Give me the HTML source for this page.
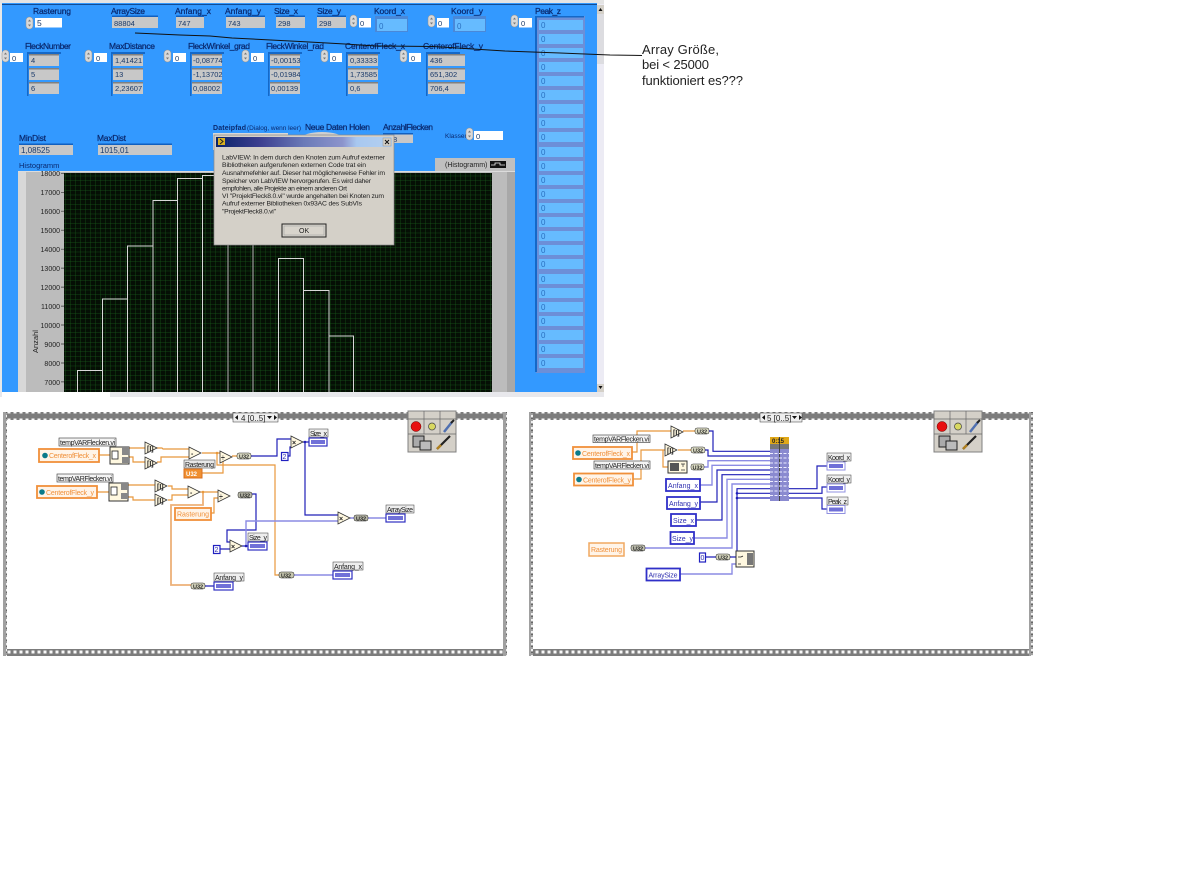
<!DOCTYPE html>
<html><head><meta charset="utf-8"><style>
html,body{margin:0;padding:0;background:#fff;width:1187px;height:872px;overflow:hidden}
svg{display:block;font-family:"Liberation Sans",sans-serif}
.l{font-size:8.5px;fill:#0a2a70;stroke:#0a2a70;stroke-width:.25}
.v{font-size:7.5px;fill:#1a3a6a}
.p{font-size:8px;fill:#2a70c0}
.a{font-size:7px;fill:#222;text-anchor:end}
.d{font-size:6.8px;fill:#222}
.t{font-size:7px;fill:#222}
.o{font-size:7px;fill:#f0903a}
.b{font-size:7px;fill:#3030b0}
.u{font-size:5.5px;fill:#222;font-weight:bold}
.g{font-size:7px;fill:#222;font-weight:bold}
.or{fill:none;stroke:#e8983c;stroke-width:1.2}
.bl{fill:none;stroke:#2020b8;stroke-width:1.2}
.la{fill:none;stroke:#8c8ce4;stroke-width:1.4}
</style></head><body>
<svg width="1187" height="872" viewBox="0 0 1187 872" xmlns="http://www.w3.org/2000/svg">
<defs>
<pattern id="film" width="6" height="8" patternUnits="userSpaceOnUse"><rect width="6" height="8" fill="#7c7c7c"/><rect x="1.5" y="2.5" width="3" height="3" fill="#f8f8f8"/></pattern>
<pattern id="film2" width="5" height="6" patternUnits="userSpaceOnUse"><rect width="5" height="6" fill="#a0a0a0"/><rect x="1" y="1" width="2" height="2" fill="#f0f0f0"/><rect x="1" y="4" width="2" height="1" fill="#666"/></pattern>
<pattern id="grid" width="5" height="4.75" patternUnits="userSpaceOnUse"><rect width="5" height="4.75" fill="#050f05"/><path d="M0 0V4.75M0 0H5" stroke="#175a1a" stroke-width=".7"/></pattern>
<linearGradient id="tb"><stop offset="0" stop-color="#0a246a"/><stop offset=".25" stop-color="#3c3f90"/><stop offset=".5" stop-color="#6a7ab8"/><stop offset=".72" stop-color="#8c94cc"/><stop offset=".8" stop-color="#a8c8f0"/><stop offset="1" stop-color="#b4d0f0"/></linearGradient>
<g id="s"><rect width="7" height="12" rx="3.4" fill="#d8d8d8" stroke="#909090" stroke-width=".5"/><path d="M3.5 2.5l-1.5 2h3zM3.5 9.5l-1.5-2h3z" fill="#777"/></g>
<g id="arr"><rect x="-2" y="-3" width="34" height="43" fill="#3399ff"/><rect x="-2" y="-3" width="34" height="2" fill="#1468c8"/><rect x="-2" y="-3" width="1.5" height="44" fill="#1468c8"/><rect y="0" width="30" height="11" fill="#c8c8c8"/><rect y="14" width="30" height="11" fill="#c8c8c8"/><rect y="28" width="30" height="11" fill="#c8c8c8"/><rect y="-1" width="30" height="1.5" fill="#808080"/><rect y="13" width="30" height="1.5" fill="#808080"/><rect y="27" width="30" height="1.5" fill="#808080"/></g>
<g id="tri"><path d="M0 0L12 6L0 12Z" fill="#fff8e0" stroke="#333" stroke-width=".8"/></g>
<g id="pal"><rect width="48" height="41" fill="#d4d0c8" stroke="#808080"/><path d="M0 8H48M16 0V23M32 0V23M0 23H48" stroke="#666" stroke-width=".7"/><circle cx="8" cy="15.500" r="5" fill="#e81010" stroke="#600" stroke-width=".5"/><circle cx="24" cy="15.500" r="3.500" fill="#d8d860" stroke="#444" stroke-width=".7"/><path d="M36 21L44 11" stroke="#5070b0" stroke-width="2.500"/><path d="M43 12L46 9" stroke="#222" stroke-width="2"/><rect x="5" y="25" width="11" height="11" fill="#aaa" stroke="#222"/><rect x="12" y="30" width="11" height="9" fill="#bbb" stroke="#222"/><path d="M29 38L42 25" stroke="#222" stroke-width="2.200"/><path d="M29 38L33 34" stroke="#b08020" stroke-width="2.500"/></g>
</defs>
<rect width="1187" height="872" fill="#fff"/>

<!-- front panel -->
<rect x="0" y="0" width="604" height="4" fill="#e4e4e4"/>
<rect x="0" y="3" width="2" height="392" fill="#e8e8e8"/>
<rect x="2" y="3" width="595" height="389" fill="#3399ff"/>
<rect x="2" y="4" width="595" height=".8" fill="#0a3a7a"/>
<rect x="597" y="4" width="7" height="388" fill="#ecebf4"/>
<rect x="597" y="14" width="7" height="50" fill="#dcdce0"/>
<rect x="597" y="5" width="7" height="9" fill="#d4d0c8"/><path d="M600.500 8l-2 3h4z" fill="#111"/>
<rect x="597" y="384" width="7" height="8" fill="#d4d0c8"/><path d="M600.500 389l-2-3h4z" fill="#111"/>
<rect x="0" y="392" width="604" height="5" fill="#e8e8ec"/><rect x="2" y="392" width="108" height="5" fill="#fff"/>

<!-- top row -->
<text class="l" x="33" y="14" textLength="38">Rasterung</text>
<use href="#s" x="26" y="17"/><rect x="35" y="18" width="27" height="9.500" fill="#fff"/><text class="v" x="37" y="26" style="font-size:8.500px">5</text>
<text class="l" x="111" y="14" textLength="34">ArraySize</text>
<rect x="112" y="16" width="46" height="12" fill="#c8c8c8"/><rect x="112" y="15.500" width="46" height="1.500" fill="#1060c0"/><text class="v" x="114" y="26">88804</text>
<text class="l" x="175" y="14" textLength="36">Anfang_x</text>
<rect x="176" y="16" width="28" height="12" fill="#c8c8c8"/><rect x="176" y="15.500" width="28" height="1.500" fill="#1060c0"/><text class="v" x="178" y="26">747</text>
<text class="l" x="225" y="14" textLength="36">Anfang_y</text>
<rect x="226" y="16" width="39" height="12" fill="#c8c8c8"/><rect x="226" y="15.500" width="39" height="1.500" fill="#1060c0"/><text class="v" x="228" y="26">743</text>
<text class="l" x="274" y="14" textLength="24">Size_x</text>
<rect x="276" y="16" width="29" height="12" fill="#c8c8c8"/><rect x="276" y="15.500" width="29" height="1.500" fill="#1060c0"/><text class="v" x="278" y="26">298</text>
<text class="l" x="317" y="14" textLength="24">Size_y</text>
<rect x="317" y="16" width="29" height="12" fill="#c8c8c8"/><rect x="317" y="15.500" width="29" height="1.500" fill="#1060c0"/><text class="v" x="319" y="26">298</text>
<use href="#s" x="350" y="15"/><rect x="359" y="18" width="12" height="9.500" fill="#fff"/><text class="v" x="360" y="26">0</text>
<text class="l" x="374" y="14" textLength="31">Koord_x</text>
<rect x="375" y="16" width="33" height="16" fill="#4a88d8"/><rect x="377" y="19" width="30" height="12" fill="#66bbff"/><text class="p" x="379" y="29">0</text>
<use href="#s" x="428" y="15"/><rect x="437" y="18" width="12" height="9.500" fill="#fff"/><text class="v" x="438" y="26">0</text>
<text class="l" x="451" y="14" textLength="32">Koord_y</text>
<rect x="453" y="16" width="33" height="16" fill="#4a88d8"/><rect x="455" y="19" width="30" height="12" fill="#66bbff"/><text class="p" x="457" y="29">0</text>
<use href="#s" x="511" y="15"/><rect x="519" y="18" width="13" height="9.500" fill="#fff"/><text class="v" x="521" y="26">0</text>
<text class="l" x="535" y="14" textLength="26">Peak_z</text>

<!-- Peak_z -->
<rect x="536" y="16" width="49" height="357" fill="#6c8fd8"/><rect x="535" y="16" width="49" height="1.500" fill="#1468c8"/><rect x="535" y="16" width="2" height="356" fill="#1468c8"/>
<g fill="#66bbff">
<rect x="539" y="20" width="44" height="10"/><rect x="539" y="34" width="44" height="10"/><rect x="539" y="48" width="44" height="10"/><rect x="539" y="62" width="44" height="10"/><rect x="539" y="76" width="44" height="10"/><rect x="539" y="90" width="44" height="10"/><rect x="539" y="104" width="44" height="10"/><rect x="539" y="118" width="44" height="10"/><rect x="539" y="132" width="44" height="10"/><rect x="539" y="147" width="44" height="10"/><rect x="539" y="161" width="44" height="10"/><rect x="539" y="175" width="44" height="10"/><rect x="539" y="189" width="44" height="10"/><rect x="539" y="203" width="44" height="10"/><rect x="539" y="217" width="44" height="10"/><rect x="539" y="231" width="44" height="10"/><rect x="539" y="245" width="44" height="10"/><rect x="539" y="259" width="44" height="10"/><rect x="539" y="274" width="44" height="10"/><rect x="539" y="288" width="44" height="10"/><rect x="539" y="302" width="44" height="10"/><rect x="539" y="316" width="44" height="10"/><rect x="539" y="330" width="44" height="10"/><rect x="539" y="344" width="44" height="10"/><rect x="539" y="358" width="44" height="10"/>
</g>
<g class="p" style="font-size:8px;fill:#2a70c0">
<text x="541" y="28">0</text><text x="541" y="42">0</text><text x="541" y="56">0</text><text x="541" y="70">0</text><text x="541" y="84">0</text><text x="541" y="98">0</text><text x="541" y="112">0</text><text x="541" y="126">0</text><text x="541" y="140">0</text><text x="541" y="155">0</text><text x="541" y="169">0</text><text x="541" y="183">0</text><text x="541" y="197">0</text><text x="541" y="211">0</text><text x="541" y="225">0</text><text x="541" y="239">0</text><text x="541" y="253">0</text><text x="541" y="267">0</text><text x="541" y="282">0</text><text x="541" y="296">0</text><text x="541" y="310">0</text><text x="541" y="324">0</text><text x="541" y="338">0</text><text x="541" y="352">0</text><text x="541" y="366">0</text>
</g>

<!-- second row -->
<text class="l" x="25" y="49" textLength="46">FleckNumber</text>
<use href="#s" x="2" y="50"/><rect x="10" y="53" width="13" height="9" fill="#fff"/><text class="v" x="12" y="61">0</text>
<use href="#arr" x="29" y="55"/><text class="v" x="31" y="63">4</text><text class="v" x="31" y="77">5</text><text class="v" x="31" y="91">6</text>
<text class="l" x="109" y="49" textLength="46">MaxDistance</text>
<use href="#s" x="85" y="50"/><rect x="94" y="53" width="13" height="9" fill="#fff"/><text class="v" x="96" y="61">0</text>
<use href="#arr" x="113" y="55"/><text class="v" x="115" y="63">1,41421</text><text class="v" x="115" y="77">13</text><text class="v" x="115" y="91">2,23607</text>
<text class="l" x="188" y="49" textLength="62">FleckWinkel_grad</text>
<use href="#s" x="164" y="50"/><rect x="173" y="53" width="13" height="9" fill="#fff"/><text class="v" x="175" y="61">0</text>
<use href="#arr" x="192" y="55"/><text class="v" x="193" y="63">-0,08774</text><text class="v" x="193" y="77">-1,13702</text><text class="v" x="193" y="91">0,08002</text>
<text class="l" x="266" y="49" textLength="58">FleckWinkel_rad</text>
<use href="#s" x="242" y="50"/><rect x="251" y="53" width="13" height="9" fill="#fff"/><text class="v" x="253" y="61">0</text>
<use href="#arr" x="270" y="55"/><text class="v" x="271" y="63">-0,00153</text><text class="v" x="271" y="77">-0,01984</text><text class="v" x="271" y="91">0,00139</text>
<text class="l" x="345" y="49" textLength="60">CenterofFleck_x</text>
<use href="#s" x="321" y="50"/><rect x="330" y="53" width="12" height="9" fill="#fff"/><text class="v" x="332" y="61">0</text>
<use href="#arr" x="348" y="55"/><text class="v" x="350" y="63">0,33333</text><text class="v" x="350" y="77">1,73585</text><text class="v" x="350" y="91">0,6</text>
<text class="l" x="423" y="49" textLength="60">CenterofFleck_y</text>
<use href="#s" x="400" y="50"/><rect x="409" y="53" width="12" height="9" fill="#fff"/><text class="v" x="411" y="61">0</text>
<use href="#arr" x="428" y="55"/><rect x="456" y="55" width="10" height="39" fill="#3399ff"/><rect x="428" y="55" width="37" height="11" fill="#c8c8c8"/><rect x="428" y="69" width="37" height="11" fill="#c8c8c8"/><rect x="428" y="83" width="37" height="11" fill="#c8c8c8"/><rect x="428" y="54" width="37" height="1.500" fill="#808080"/><rect x="428" y="68" width="37" height="1.500" fill="#808080"/><rect x="428" y="82" width="37" height="1.500" fill="#808080"/>
<text class="v" x="430" y="63">436</text><text class="v" x="430" y="77">651,302</text><text class="v" x="430" y="91">706,4</text>

<!-- third row -->
<text class="l" x="19" y="141" textLength="27">MinDist</text>
<rect x="19" y="144" width="54" height="11" fill="#c8c8c8"/><rect x="19" y="143.500" width="54" height="1.500" fill="#1060c0"/><text class="v" x="21" y="153" style="font-size:8px">1,08525</text>
<text class="l" x="97" y="141" textLength="29">MaxDist</text>
<rect x="98" y="144" width="74" height="11" fill="#c8c8c8"/><rect x="98" y="143.500" width="74" height="1.500" fill="#1060c0"/><text class="v" x="100" y="153" style="font-size:8px">1015,01</text>
<text x="213" y="130" style="font-size:7px;fill:#0a2a70;font-weight:bold" textLength="33">Dateipfad</text>
<text x="247" y="130" style="font-size:6.500px;fill:#0a2a70" textLength="54">(Dialog, wenn leer)</text>
<text class="l" x="305" y="130" textLength="65">Neue Daten Holen</text>
<text class="l" x="383" y="130" textLength="50">AnzahlFlecken</text>
<rect x="383" y="134" width="30" height="9" fill="#c8c8c8"/><rect x="383" y="133" width="30" height="1.500" fill="#1060c0"/><text class="v" x="393" y="142">8</text>
<text x="445" y="138" style="font-size:6.500px;fill:#0a2a70">Klassen</text>
<use href="#s" x="466" y="128"/><rect x="474" y="131" width="29" height="9" fill="#fff"/><text class="v" x="476" y="139">0</text>
<text x="19" y="168" style="font-size:7.500px;fill:#0a2a70">Histogramm</text>

<!-- chart -->
<rect x="435" y="158" width="80" height="14" fill="#c0c0c0"/><text x="445" y="167" style="font-size:7px;fill:#222">(Histogramm)</text><rect x="490" y="161" width="16" height="7" fill="#111"/><path d="M491 165h4v-2h5v2h5" stroke="#eee" fill="none" stroke-width=".8"/>
<rect x="18" y="171" width="497" height="221" fill="#bcbcbc"/><rect x="18" y="171" width="8" height="221" fill="#d8d8d8"/><rect x="18" y="171" width="497" height="1" fill="#dcdcdc"/><rect x="507" y="172" width="8" height="220" fill="#a8a8a8"/>
<rect x="64" y="173" width="428" height="219" fill="url(#grid)"/>
<g class="a"><text x="60" y="176">18000</text><text x="60" y="195">17000</text><text x="60" y="214">16000</text><text x="60" y="233">15000</text><text x="60" y="252">14000</text><text x="60" y="271">13000</text><text x="60" y="290">12000</text><text x="60" y="309">11000</text><text x="60" y="328">10000</text><text x="60" y="347">9000</text><text x="60" y="366">8000</text><text x="60" y="385">7000</text></g>
<path d="M61 173.300h3M61 192.300h3M61 211.200h3M61 230.200h3M61 249.200h3M61 268.100h3M61 287.100h3M61 306.100h3M61 325h3M61 344h3M61 363h3M61 381.900h3" stroke="#333" stroke-width=".7"/>
<text transform="translate(38,353) rotate(-90)" style="font-size:7.500px;fill:#222">Anzahl</text>
<path d="M77.500 392V370.500H102.500V392M102.500 370V299H127.500V392M127.500 299V246H153V392M153 246V200.500H177.500V392M177.500 200.500V178.500H202.500V392M202.500 178.500V175.500H228V392M253 392V220M278.500 392V258.500H303.500V392M303.500 290.500H329V392M329 336H353.500V392" fill="none" stroke="#d8d8d8" stroke-width="1"/>
<path d="M228 245V392M253 245V392" stroke="#999" stroke-width="1.200"/>

<!-- dialog -->
<rect x="213" y="133" width="75" height="17" fill="#d8d8d8"/><ellipse cx="322" cy="138" rx="20" ry="6" fill="#cfcfcf"/>
<rect x="214" y="135" width="180" height="110" fill="#d4d0c8" stroke="#888" stroke-width=".7"/>
<rect x="216" y="137" width="176" height="10" fill="url(#tb)"/>
<rect x="218" y="138" width="7" height="7" fill="#d8b020"/><path d="M220 139l3 2.500-3 2.500" stroke="#222" fill="none"/>
<rect x="383" y="138" width="8" height="8" fill="#d4d0c8" stroke="#888" stroke-width=".4"/><path d="M385 140l4 4M389 140l-4 4" stroke="#111" stroke-width="1"/>
<g class="d">
<text x="222" y="159.500" textLength="163">LabVIEW:  In dem durch den Knoten zum Aufruf externer</text>
<text x="222" y="167" textLength="144">Bibliotheken aufgerufenen externen Code trat ein</text>
<text x="222" y="175" textLength="163">Ausnahmefehler auf. Dieser hat möglicherweise Fehler im</text>
<text x="222" y="183" textLength="149">Speicher von LabVIEW hervorgerufen. Es wird daher</text>
<text x="222" y="190.500" textLength="125">empfohlen, alle Projekte an einem anderen Ort</text>
<text x="222" y="198" textLength="162">VI "ProjektFleck8.0.vi" wurde angehalten bei Knoten zum</text>
<text x="222" y="205.500" textLength="140">Aufruf externer Bibliotheken  0x93AC des SubVIs</text>
<text x="222" y="213.500" textLength="54">"ProjektFleck8.0.vi"</text>
</g>
<rect x="282" y="224" width="44" height="13" fill="#d8d4cc" stroke="#222" stroke-width="1"/><rect x="284" y="226" width="40" height="9" fill="none" stroke="#999" stroke-width=".5"/><text x="299" y="233" style="font-size:7px;fill:#222">OK</text>

<!-- callout -->
<path d="M135 33L180 35L210 36L232 38L300 41.500L345 44L375 46L433 46.500L505 51L560 53L610 55L642 55.500" fill="none" stroke="#111" stroke-width="1"/>
<g style="font-size:13px;fill:#222"><text x="642" y="54" textLength="77">Array Größe,</text><text x="642" y="69" textLength="67">bei &lt; 25000</text><text x="642" y="85" textLength="101">funktioniert es???</text></g>

<!-- FRAME 1 -->
<rect x="3" y="412" width="504" height="244" fill="#fff"/>
<rect x="3" y="412" width="504" height="8" fill="url(#film)"/><rect x="3" y="649" width="504" height="7" fill="url(#film)"/>
<rect x="3" y="412" width="4" height="244" fill="url(#film2)"/><rect x="503" y="412" width="4" height="244" fill="url(#film2)"/>
<rect x="233" y="413" width="45" height="9" fill="#eee" stroke="#333" stroke-width=".5"/><path d="M238 415v5l-3-2.500zM274 415v5l3-2.500zM267 416h5l-2.500 3z" fill="#111"/><text x="241" y="421" style="font-size:8px;fill:#222">4 [0..5]</text>
<use href="#pal" x="408" y="411"/>

<path class="or" d="M99 455H110M129 448H162L163 449H189M129 457H133V462H145M157 462H161V457H189M202 453H220M217 453V465H275V575H279M223 459V473H202M232 456H237M97 492H109M128 485H155M128 497H133V500H155M168 486H172V489H188M168 500H172V495H188M200 492H218M211 513H214V498H218"/>
<path d="M203 492V505H171V585H191" fill="none" stroke="#edb078" stroke-width="1.800"/>
<path class="bl" d="M251 456H277V439H291M288 456H290V447H291M303 442H309M305 442V515H338M252 494H256V530H227V542H230M220 549H230M242 546H248M205 586H214"/>
<path class="la" d="M246 546V521H338M350 518H354M368 518H386M294 575H333"/>
<circle cx="305" cy="442" r="1.300" fill="#2020b8"/><circle cx="246" cy="546" r="1.300" fill="#2020b8"/><circle cx="217" cy="453" r="1.300" fill="#e8983c"/><circle cx="203" cy="492" r="1.300" fill="#e8983c"/>

<rect x="59" y="438" width="57" height="8" fill="#f4f4f4" stroke="#333" stroke-width=".6"/><text class="t" x="60" y="445" textLength="55">tempVARFlecken.vi</text>
<rect x="39" y="449" width="60" height="13" fill="#fff4e8" stroke="#f0903a" stroke-width="1.800"/><circle cx="45" cy="455.500" r="2.800" fill="#0a7a8a"/><text class="o" x="49" y="458" textLength="47">CenterofFleck_x</text>
<rect x="110" y="447" width="19" height="17" fill="#fff8e0" stroke="#333"/><rect x="112" y="451" width="6" height="8" fill="#fff" stroke="#222" stroke-width=".8"/><rect x="122" y="447" width="7" height="8" fill="#888"/><rect x="122" y="457" width="7" height="6" fill="#888"/>
<use href="#tri" x="145" y="442"/><use href="#tri" x="145" y="457"/><use href="#tri" x="189" y="447"/><use href="#tri" x="220" y="451"/>
<text class="g" x="147" y="451">[I]</text><text class="g" x="147" y="466">[I]</text><text class="g" x="191" y="456">-</text><text class="g" x="221" y="460">÷</text>
<rect x="237" y="453" width="14" height="6" rx="2" fill="#e0e0c8" stroke="#222" stroke-width=".5"/><text class="u" x="239" y="458.500">U32</text>
<rect x="184" y="460" width="31" height="8" fill="#e8e8e8" stroke="#333" stroke-width=".5"/><text class="t" x="185" y="467" textLength="29">Rasterung</text>
<rect x="184" y="469" width="18" height="9" fill="#f09030" stroke="#d87020"/><text x="186" y="476" style="font-size:6px;fill:#fff;font-weight:bold">U32</text>
<rect x="57" y="474" width="56" height="8" fill="#f4f4f4" stroke="#333" stroke-width=".6"/><text class="t" x="58" y="481" textLength="54">tempVARFlecken.vi</text>
<rect x="37" y="486" width="60" height="12" fill="#fff4e8" stroke="#f0903a" stroke-width="1.800"/><circle cx="42" cy="492" r="2.800" fill="#0a7a8a"/><text class="o" x="46" y="495" textLength="48">CenterofFleck_y</text>
<rect x="109" y="483" width="19" height="18" fill="#fff8e0" stroke="#333"/><rect x="111" y="487" width="6" height="8" fill="#fff" stroke="#222" stroke-width=".8"/><rect x="121" y="483" width="7" height="7" fill="#888"/><rect x="121" y="493" width="7" height="6" fill="#888"/>
<use href="#tri" x="155" y="480"/><use href="#tri" x="155" y="494"/><use href="#tri" x="188" y="486"/><use href="#tri" x="218" y="490"/>
<text class="g" x="157" y="489">[I]</text><text class="g" x="157" y="503">[I]</text><text class="g" x="190" y="495">-</text><text class="g" x="219" y="499">÷</text>
<rect x="238" y="492" width="14" height="6" rx="2" fill="#b8b8a8" stroke="#222" stroke-width=".5"/><text class="u" x="240" y="497.500">U32</text>
<rect x="175" y="508" width="36" height="12" fill="#fff4e8" stroke="#f0903a" stroke-width="1.800"/><text class="o" x="177" y="516.500" textLength="32">Rasterung</text>
<rect x="213.500" y="545.500" width="6.500" height="8" fill="#fff" stroke="#2020c0" stroke-width="1.200"/><text class="b" x="214.500" y="552">2</text>
<use href="#tri" x="230" y="540"/><text class="g" x="231" y="549">×</text>
<rect x="248" y="533" width="20" height="8" fill="#eee" stroke="#333" stroke-width=".5"/><text class="t" x="249" y="540" textLength="18">Size_y</text>
<rect x="248" y="542" width="19" height="8" fill="#fff" stroke="#3030c0" stroke-width="1.200"/><rect x="250" y="544" width="15" height="4" fill="#7070d8"/>
<use href="#tri" x="291" y="436"/><text class="g" x="292" y="445">×</text>
<rect x="281.500" y="452.500" width="6.500" height="8" fill="#fff" stroke="#2020c0" stroke-width="1.200"/><text class="b" x="282.500" y="459">2</text>
<rect x="309" y="429" width="19" height="8" fill="#eee" stroke="#333" stroke-width=".5"/><text class="t" x="310" y="436" textLength="17">Size_x</text>
<rect x="309" y="438" width="18" height="8" fill="#fff" stroke="#3030c0" stroke-width="1.200"/><rect x="311" y="440" width="14" height="4" fill="#7070d8"/>
<use href="#tri" x="338" y="512"/><text class="g" x="339" y="521">×</text>
<rect x="354" y="515" width="14" height="6" rx="2" fill="#b8b8a8" stroke="#222" stroke-width=".5"/><text class="u" x="356" y="520.500">U32</text>
<rect x="386" y="505" width="28" height="8" fill="#eee" stroke="#333" stroke-width=".5"/><text class="t" x="387" y="512" textLength="26">ArraySize</text>
<rect x="386" y="514" width="19" height="8" fill="#fff" stroke="#3030c0" stroke-width="1.200"/><rect x="388" y="516" width="15" height="4" fill="#7070d8"/>
<rect x="279" y="572" width="15" height="6" rx="2" fill="#c8c8b0" stroke="#222" stroke-width=".5"/><text class="u" x="281" y="577.500">U32</text>
<rect x="333" y="562" width="30" height="8" fill="#eee" stroke="#333" stroke-width=".5"/><text class="t" x="334" y="569" textLength="28">Anfang_x</text>
<rect x="333" y="571" width="19" height="8" fill="#fff" stroke="#3030c0" stroke-width="1.200"/><rect x="335" y="573" width="15" height="4" fill="#7070d8"/>
<rect x="191" y="583" width="14" height="6" rx="2" fill="#d8d8c0" stroke="#222" stroke-width=".5"/><text class="u" x="193" y="588.500">U32</text>
<rect x="214" y="573" width="30" height="8" fill="#eee" stroke="#333" stroke-width=".5"/><text class="t" x="215" y="580" textLength="28">Anfang_y</text>
<rect x="214" y="582" width="19" height="8" fill="#fff" stroke="#3030c0" stroke-width="1.200"/><rect x="216" y="584" width="15" height="4" fill="#7070d8"/>

<!-- FRAME 2 -->
<rect x="529" y="412" width="504" height="244" fill="#fff"/>
<rect x="529" y="412" width="504" height="8" fill="url(#film)"/><rect x="529" y="649" width="504" height="7" fill="url(#film)"/>
<rect x="529" y="412" width="4" height="244" fill="url(#film2)"/><rect x="1029" y="412" width="4" height="244" fill="url(#film2)"/>
<rect x="760" y="413" width="42" height="9" fill="#eee" stroke="#333" stroke-width=".5"/><path d="M765 415v5l-3-2.500zM799 415v5l3-2.500zM792 416h5l-2.500 3z" fill="#111"/><text x="767" y="421" style="font-size:8px;fill:#222">5 [0..5]</text>
<use href="#pal" x="934" y="411"/>

<path class="or" d="M632 452H637V431H671M683 431H695M633 479H641V450H665M678 450H691M663 450V467H668"/>
<path class="bl" d="M709 431H713V451.300H770M705 450H708V456H770M700 502H717V470H770M696 520H722V474.700H770M737 551V488.700H770M737 493.300H770M737 498H770M706 557H716M730 557H736M789 488.700H817V466H827M789 493.300H822V487H827M789 498H822V509H827"/>
<path class="la" d="M704 467H708V460.700H770M700 485H712V465.300H770M694 538H727V479.300H770M645 548H732V484H770M680 574H732V564H736"/>
<circle cx="737" cy="493.300" r="1.300" fill="#2020b8"/><circle cx="737" cy="498" r="1.300" fill="#2020b8"/>

<rect x="593" y="435" width="57" height="7.500" fill="#f4f4f4" stroke="#333" stroke-width=".6"/><text class="t" x="594" y="441.500" textLength="55">tempVARFlecken.vi</text>
<rect x="573" y="447" width="59" height="12" fill="#fff4e8" stroke="#f0903a" stroke-width="1.800"/><circle cx="578" cy="453" r="2.800" fill="#0a7a8a"/><text class="o" x="582" y="456" textLength="48">CenterofFleck_x</text>
<rect x="594" y="461" width="56" height="8" fill="#f4f4f4" stroke="#333" stroke-width=".6"/><text class="t" x="595" y="468" textLength="54">tempVARFlecken.vi</text>
<rect x="574" y="473.500" width="59" height="12" fill="#fff4e8" stroke="#f0903a" stroke-width="1.800"/><circle cx="579" cy="479.500" r="2.800" fill="#0a7a8a"/><text class="o" x="583" y="482.500" textLength="48">CenterofFleck_y</text>
<use href="#tri" x="671" y="426"/><use href="#tri" x="665" y="444"/>
<text class="g" x="673" y="435">[I]</text><text class="g" x="667" y="453">[I]</text>
<rect x="695" y="428" width="14" height="6" rx="2" fill="#e0e0c8" stroke="#222" stroke-width=".5"/><text class="u" x="697" y="433.500">U32</text>
<rect x="691" y="447" width="14" height="6" rx="2" fill="#e0e0c8" stroke="#222" stroke-width=".5"/><text class="u" x="693" y="452.500">U32</text>
<rect x="668" y="461" width="19" height="12" fill="#fff8e0" stroke="#333"/><rect x="670" y="463" width="9" height="8" fill="#555"/><path d="M681 464h4M683 464v3M681 470h4" stroke="#333" stroke-width=".7"/>
<rect x="691" y="464" width="13" height="6" rx="2" fill="#e0e0c8" stroke="#222" stroke-width=".5"/><text class="u" x="692.500" y="469.500">U32</text>
<g fill="#fff" stroke="#3030c8" stroke-width="1.800">
<rect x="666" y="479" width="34" height="12"/><rect x="667" y="497" width="33" height="12"/><rect x="671" y="514" width="25" height="12"/><rect x="670.500" y="532" width="23.500" height="12"/><rect x="646.500" y="568.500" width="33.500" height="12"/>
</g>
<text class="b" x="668" y="488" textLength="30">Anfang_x</text><text class="b" x="669" y="506" textLength="29">Anfang_y</text><text class="b" x="673" y="523" textLength="21">Size_x</text><text class="b" x="672" y="541" textLength="21">Size_y</text><text class="b" x="648.500" y="577.500" textLength="29">ArraySize</text>
<rect x="589" y="543" width="35" height="13" fill="#fff4e8" stroke="#f0a860" stroke-width="1.500"/><text class="o" x="591" y="552" textLength="31">Rasterung</text>
<rect x="631" y="545" width="14" height="6" rx="2" fill="#c0c0b0" stroke="#222" stroke-width=".5"/><text class="u" x="633" y="550.500">U32</text>
<rect x="699.500" y="553" width="6" height="9" fill="#fff" stroke="#2020c0" stroke-width="1.200"/><text class="b" x="700.500" y="560">0</text>
<rect x="716" y="554" width="14" height="6" rx="2" fill="#d8d8c0" stroke="#222" stroke-width=".5"/><text class="u" x="718" y="559.500">U32</text>
<rect x="736" y="551" width="18" height="16" fill="#fff8e0" stroke="#333"/><rect x="747" y="553" width="6" height="12" fill="#777"/><path d="M738 557h3M741 557l2-1M738 564h3" stroke="#222" stroke-width=".8"/>

<rect x="770" y="437" width="19" height="7" fill="#e0a818"/><rect x="770" y="444" width="19" height="5" fill="#777"/><rect x="770" y="449" width="19" height="52" fill="#8a8ad0"/><rect x="779" y="437" width="1" height="64" fill="#444"/>
<text x="772" y="443" style="font-size:6px;fill:#222;font-weight:bold">0:15</text>
<path d="M770 453.500H789M770 458H789M770 463H789M770 467.500H789M770 472H789M770 477H789M770 481.500H789M770 486H789M770 491H789M770 495.500H789" stroke="#eef" stroke-width="1.100" stroke-dasharray="3 1.500"/>

<rect x="827" y="453" width="24" height="8" fill="#eee" stroke="#333" stroke-width=".5"/><text class="t" x="828" y="460" textLength="22">Koord_x</text>
<rect x="827" y="462" width="18" height="8" fill="#fff" stroke="#9090e0"/><rect x="829" y="464" width="14" height="4" fill="#7070d8"/>
<rect x="827" y="475" width="24" height="8" fill="#eee" stroke="#333" stroke-width=".5"/><text class="t" x="828" y="482" textLength="22">Koord_y</text>
<rect x="827" y="484" width="18" height="8" fill="#fff" stroke="#9090e0"/><rect x="829" y="486" width="14" height="4" fill="#7070d8"/>
<rect x="827" y="497" width="21" height="8" fill="#eee" stroke="#333" stroke-width=".5"/><text class="t" x="828" y="504" textLength="19">Peak_z</text>
<rect x="827" y="505.500" width="18" height="8" fill="#fff" stroke="#9090e0"/><rect x="829" y="507.500" width="14" height="4" fill="#7070d8"/>
</svg>
</body></html>
